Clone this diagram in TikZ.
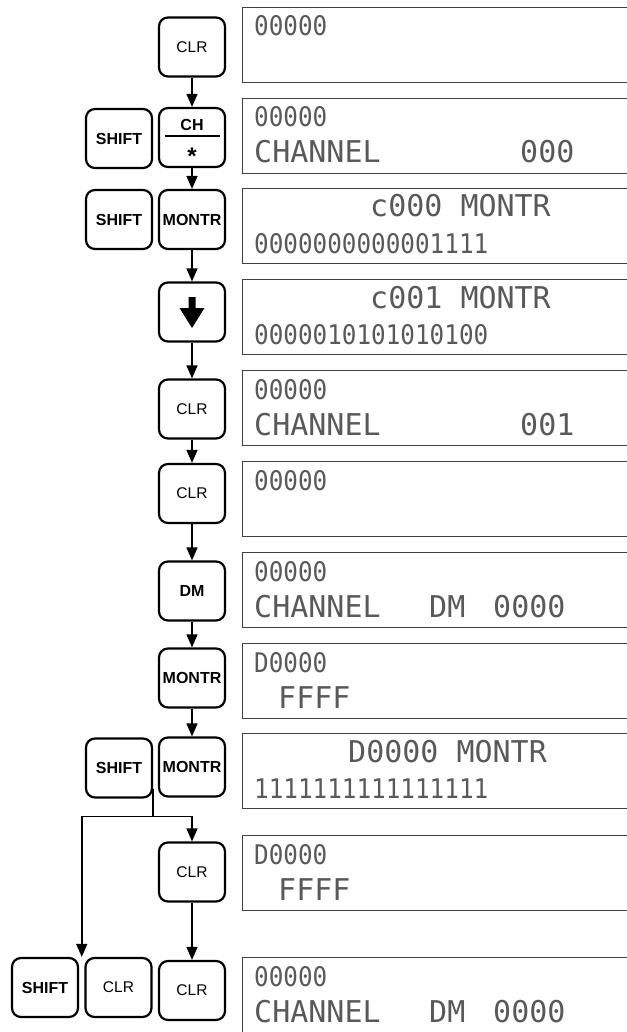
\documentclass[tikz,border=0pt]{standalone}
\usepackage{fontspec}
\setmainfont{Liberation Sans}
\newfontfamily\lcdfont{DejaVu Sans Mono}
\newfontfamily\lcdnarrowfont[FakeStretch=0.9]{DejaVu Sans Mono}
\usetikzlibrary{arrows.meta,positioning,calc}

\begin{document}
\begin{tikzpicture}[x=1pt,y=-1pt,
 key/.style={draw,line width=2.2pt,rounded corners=9pt,minimum width=66pt,minimum height=59pt,inner sep=0pt,font=\fontsize{15.5}{15.5}\selectfont},
 bkey/.style={key,font=\bfseries\fontsize{16}{16}\selectfont},
 lcd/.style={draw=black!75,line width=0.9pt,anchor=north west,minimum width=420pt,minimum height=75pt},
 lcdbig/.style={anchor=base west,inner sep=0pt,text=black!65,font=\lcdfont\fontsize{30}{30}\selectfont},
 lcdsmall/.style={lcdbig,font=\lcdnarrowfont\fontsize{27}{27}\selectfont},
 arr/.style={-{Triangle[length=13pt,width=11pt]},line width=1.6pt}]
\useasboundingbox (0,0) rectangle (626,1032);
% displays
\node[lcd] (d1) at (242,7) {};\node[lcd] (d2) at (242,98) {};\node[lcd] (d3) at (242,188) {};
\node[lcd] (d4) at (242,279) {};\node[lcd] (d5) at (242,370) {};\node[lcd] (d6) at (242,461) {};
\node[lcd] (d7) at (242,552) {};\node[lcd] (d8) at (242,643) {};\node[lcd] (d9) at (242,733) {};
\node[lcd] (d10) at (242,835) {};\node[lcd] (d11) at (242,957) {};
\node[lcdsmall] (t1a) at ([shift={(12,29)}]d1.north west) {00000};
\node[lcdsmall] (t2a) at ([shift={(12,29)}]d2.north west) {00000};
\node[lcdbig] (t2b) at ([shift={(12,65)}]d2.north west) {CHANNEL};
\node[lcdbig] (t2c) at ([shift={(278,65)}]d2.north west) {000};
\node[lcdbig] (t3a) at ([shift={(128,29)}]d3.north west) {c000 MONTR};
\node[lcdsmall] (t3b) at ([shift={(12,65)}]d3.north west) {0000000000001111};
\node[lcdbig] (t4a) at ([shift={(128,29)}]d4.north west) {c001 MONTR};
\node[lcdsmall] (t4b) at ([shift={(12,65)}]d4.north west) {0000010101010100};
\node[lcdsmall] (t5a) at ([shift={(12,29)}]d5.north west) {00000};
\node[lcdbig] (t5b) at ([shift={(12,65)}]d5.north west) {CHANNEL};
\node[lcdbig] (t5c) at ([shift={(278,65)}]d5.north west) {001};
\node[lcdsmall] (t6a) at ([shift={(12,29)}]d6.north west) {00000};
\node[lcdsmall] (t7a) at ([shift={(12,29)}]d7.north west) {00000};
\node[lcdbig] (t7b) at ([shift={(12,65)}]d7.north west) {CHANNEL};
\node[lcdbig] (t7c) at ([shift={(187,65)}]d7.north west) {DM};
\node[lcdbig] (t7d) at ([shift={(251,65)}]d7.north west) {0000};
\node[lcdsmall] (t8a) at ([shift={(12,29)}]d8.north west) {D0000};
\node[lcdbig] (t8b) at ([shift={(36,65)}]d8.north west) {FFFF};
\node[lcdbig] (t9a) at ([shift={(106,29)}]d9.north west) {D0000 MONTR};
\node[lcdsmall] (t9b) at ([shift={(12,65)}]d9.north west) {1111111111111111};
\node[lcdsmall] (t10a) at ([shift={(12,29)}]d10.north west) {D0000};
\node[lcdbig] (t10b) at ([shift={(36,65)}]d10.north west) {FFFF};
\node[lcdsmall] (t11a) at ([shift={(12,29)}]d11.north west) {00000};
\node[lcdbig] (t11b) at ([shift={(12,65)}]d11.north west) {CHANNEL};
\node[lcdbig] (t11c) at ([shift={(187,65)}]d11.north west) {DM};
\node[lcdbig] (t11d) at ([shift={(251,65)}]d11.north west) {0000};
% keys
\node[key] (clr1) at (192,47) {CLR};
\node[bkey,align=center] (ch) at (192,137.5) {CH\rule{0pt}{19.2pt}\\[-9pt]\rule{55pt}{1.6pt}\\[9.6pt]{\fontsize{24}{24}\selectfont*}};
\node[bkey] (sh1) at (119,138.5) {SHIFT};
\node[bkey] (mon1) at (192,219.5) {MONTR};\node[bkey] (sh2) at (119,219.5) {SHIFT};
\node[key] (dn) at (192,312) {};
\fill ([shift={(-3.5,-15)}]dn.center)--++(7,0)--++(0,11)--++(9,0)--++(-12.5,20)--++(-12.5,-20)--++(9,0)--cycle;
\node[key] (clr2) at (192,409) {CLR};
\node[key] (clr3) at (192,493.5) {CLR};
\node[bkey] (dm) at (192,591) {DM};
\node[bkey] (mon2) at (192,678) {MONTR};
\node[bkey] (mon3) at (192,767) {MONTR};\node[bkey] (sh3) at (119,768) {SHIFT};
\node[key] (clr4) at (192,872) {CLR};
\node[key] (clr5) at (192,990.5) {CLR};
\node[key] (clr6) at (118.5,987.5) {CLR};\node[bkey] (sh4) at (45,987.5) {SHIFT};
% connectors
\draw[arr](clr1)--(ch);\draw[arr](ch)--(mon1);\draw[arr](mon1)--(dn);
\draw[arr](dn)--(clr2);\draw[arr](clr2)--(clr3);\draw[arr](clr3)--(dm);
\draw[arr](dm)--(mon2);\draw[arr](mon2)--(mon3);\draw[arr](clr4)--(clr5);
\coordinate (sp) at ([yshift=-18pt]sh3.south east);
\coordinate (gap) at ($(sh4.north east)!0.5!(clr6.north west)$);
\draw[line width=1.6pt]([yshift=10pt]sh3.south east)--(sp);
\draw[arr](sp)-|(clr4);\draw[arr](sp)-|(gap);
\end{tikzpicture}
\end{document}
